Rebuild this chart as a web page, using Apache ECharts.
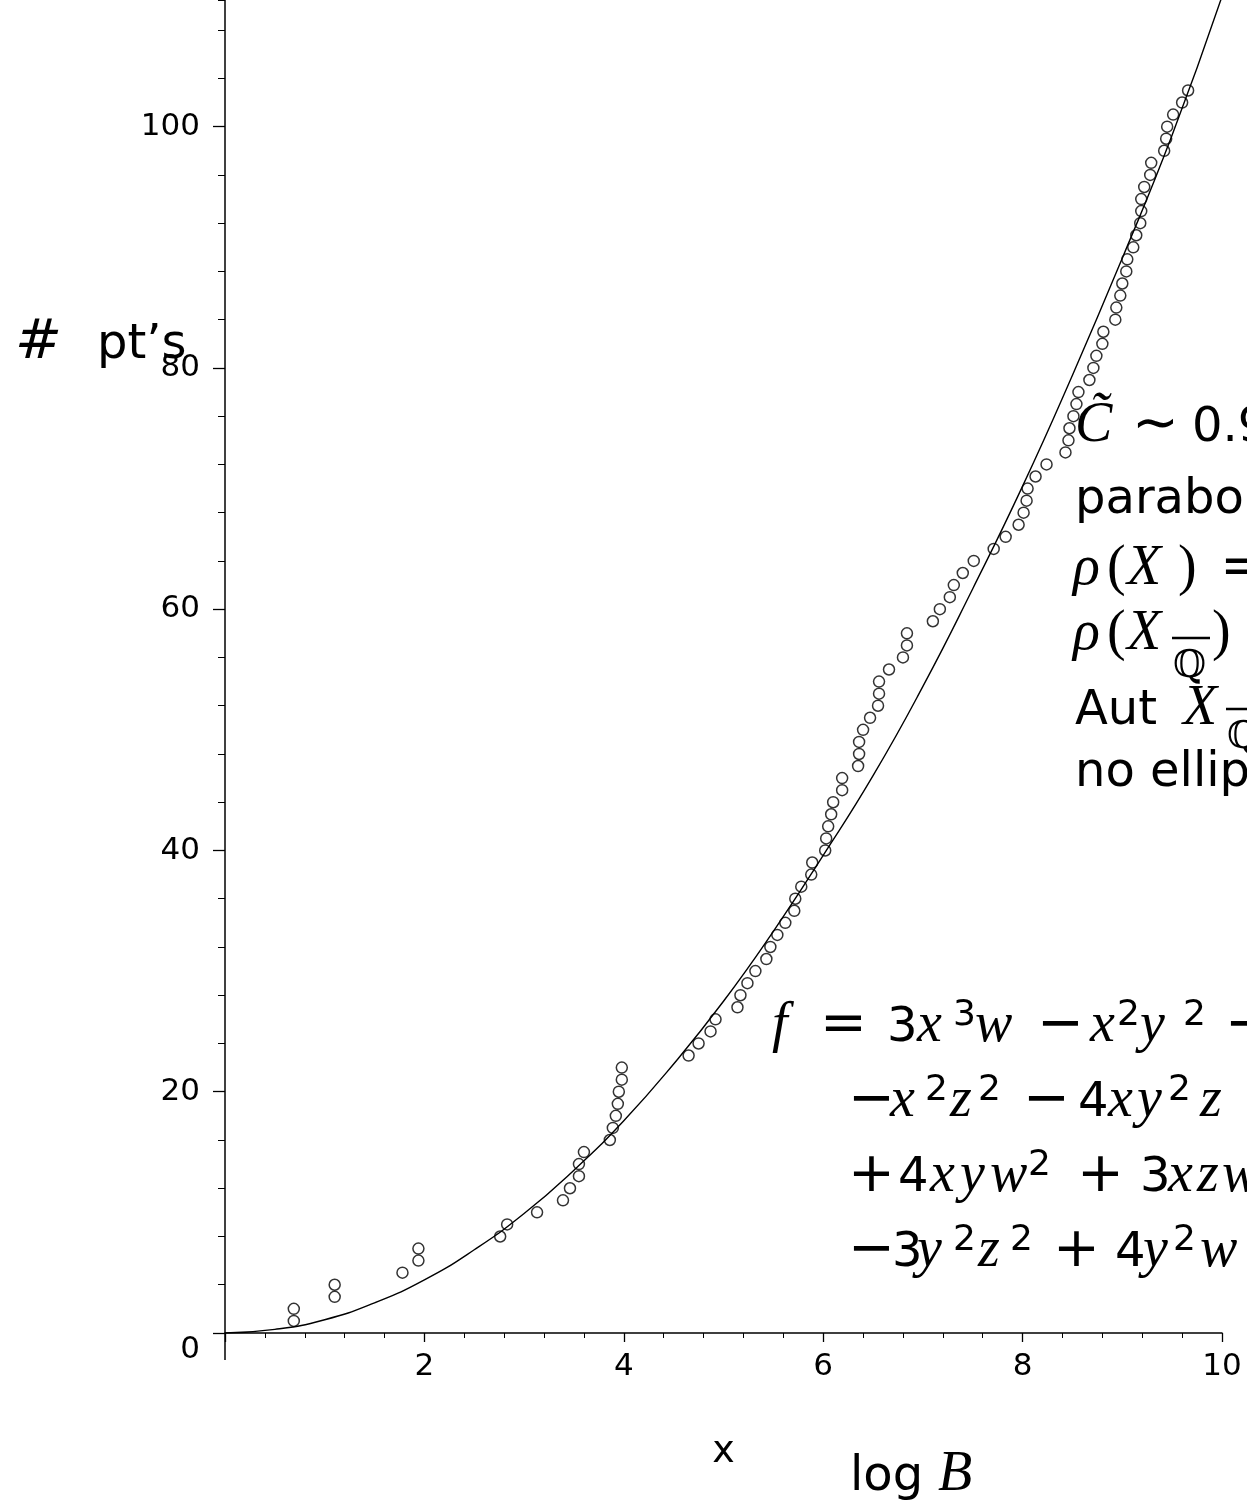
<!DOCTYPE html>
<html>
<head>
<meta charset="utf-8">
<script src="https://cdn.jsdelivr.net/npm/echarts@6/dist/echarts.min.js"></script>
<style>
html,body{margin:0;padding:0;background:#fff;}
#main{width:1247px;height:1505px;}
</style>
</head>
<body>
<div id="main"></div>
<script>
// points counted up to height B, plotted against log B
var logB = [0.69,0.69,1.10,1.10,1.78,1.94,1.94,2.76,2.83,3.13,
    3.39,3.46,3.55,3.55,3.60,3.86,3.89,3.92,3.94,3.95,
    3.98,3.98,4.65,4.75,4.87,4.92,5.14,5.17,5.24,5.32,
    5.43,5.47,5.54,5.62,5.71,5.72,5.78,5.88,5.89,6.02,
    6.03,6.05,6.08,6.10,6.19,6.19,6.35,6.36,6.36,6.40,
    6.47,6.55,6.56,6.56,6.66,6.80,6.84,6.84,7.10,7.17,
    7.27,7.31,7.40,7.51,7.71,7.83,7.96,8.01,8.04,8.05,
    8.13,8.24,8.43,8.46,8.47,8.51,8.54,8.56,8.67,8.71,
    8.74,8.80,8.81,8.93,8.94,8.98,9.00,9.04,9.05,9.11,
    9.14,9.18,9.19,9.19,9.22,9.28,9.29,9.42,9.44,9.45,
    9.51,9.60,9.66];
var numPts = [1,2,3,4,5,6,7,8,9,10,
    11,12,13,14,15,16,17,18,19,20,
    21,22,23,24,25,26,27,28,29,30,
    31,32,33,34,35,36,37,38,39,40,
    41,42,43,44,45,46,47,48,49,50,
    51,52,53,54,55,56,57,58,59,60,
    61,62,63,64,65,66,67,68,69,70,
    71,72,73,74,75,76,77,78,79,80,
    81,82,83,84,85,86,87,88,89,90,
    91,92,93,94,95,96,97,98,99,100,
    101,102,103];

// fitted curve
var curveX = [0,0.5,1,1.5,2,2.5,3,3.5,4,4.5,5,5.5,6,6.5,7,7.5,8,8.5,9,9.5,10];
var curveY = [0,0.3,1.1,2.5,4.4,6.9,9.9,13.5,17.6,22.3,27.5,33.3,39.6,46.2,53.6,61.7,70.2,79.4,89.1,99.3,110.8];

var xTicks = [0,10,2];       // min, max, step
var yTicks = [0,110.5,20,4]; // min, max, step, minor step

var scatterData = [];
for (var i = 0; i < logB.length; i++) scatterData.push([logB[i], numPts[i]]);
var curveData = [];
for (var j = 0; j < curveX.length; j++) curveData.push([curveX[j], curveY[j]]);

// text styles: math italic, roman, sans, operator, superscript, big hash
var fonts = {
    m:   {fontFamily:'Liberation Serif', fontStyle:'italic', fontSize:56, lineHeight:60},
    r:   {fontFamily:'Liberation Serif', fontSize:56, lineHeight:60},
    s:   {fontFamily:'DejaVu Sans', fontSize:48, lineHeight:60, padding:[5,0,0,0]},
    o:   {fontFamily:'DejaVu Sans', fontSize:56, lineHeight:60},
    sup: {fontFamily:'DejaVu Sans', fontSize:36, height:40, verticalAlign:'top'},
    h:   {fontFamily:'DejaVu Sans', fontStyle:'oblique', fontSize:56, lineHeight:60}
};

// tokens: [style, text, advance width]
function mathText(x, y, tokens) {
    var rich = {}, parts = [];
    for (var k = 0; k < tokens.length; k++) {
        var t = tokens[k], st = {color:'#000'};
        var base = fonts[t[0]];
        for (var p in base) st[p] = base[p];
        if (t[2]) st.width = t[2];
        rich['t' + k] = st;
        parts.push('{t' + k + '|' + t[1] + '}');
    }
    return {type:'text', x:x, y:y, silent:true,
        style:{text:parts.join(''), rich:rich, fill:'#000', align:'left', verticalAlign:'top'}};
}

function qbar(x, y) {
    return [
        {type:'text', x:x, y:y, silent:true,
            style:{text:'\u211A', fontFamily:'DejaVu Serif', fontSize:38, lineHeight:40, fill:'#000', align:'left', verticalAlign:'top'}},
        {type:'line', silent:true, shape:{x1:x - 1, y1:y - 9, x2:x + 37, y2:y - 9}, style:{stroke:'#000', lineWidth:2.4}}
    ];
}

var graphics = [
    // y axis runs a little below the x axis
    {type:'line', silent:true, shape:{x1:225, y1:1333, x2:225, y2:1360}, style:{stroke:'#000', lineWidth:1.5}},
    mathText(15, 313, [['h','#',82],['s','pt\u2019s']]),
    mathText(850, 1445, [['s','log',88],['m','B']]),

    mathText(1075, 396, [['m','C\u0303',57],['o','\u223C',60],['s','0.9']]),
    mathText(1075, 468, [['s','parabolic']]),
    mathText(1073, 539, [['m','\u03C1',34],['r','(',20],['m','X',51],['r',')',42],['o','=']]),
    mathText(1073, 604, [['m','\u03C1',34],['r','(',20],['m','X',85],['r',')']]),
    mathText(1075, 679, [['s','Aut',108],['m','X']]),
    mathText(1075, 741, [['s','no elliptic']]),

    mathText(772, 996, [['m','f',48],['o','=',67],['s','3',30],['m','x',36],['sup','3',22],['m','w',62],
        ['o','\u2212',53],['m','x',27],['sup','2',23],['m','y',43],['sup','2',42],['o','\u2212']]),
    mathText(848, 1071, [['o','\u2212',42],['m','x',35],['sup','2',25],['m','z',28],['sup','2',45],['o','\u2212',55],
        ['s','4',30],['m','x',29],['m','y',31],['sup','2',32],['m','z',45],['o','+']]),
    mathText(848, 1146, [['o','+',50],['s','4',32],['m','x',30],['m','y',30],['m','w',38],['sup','2',49],
        ['o','+',63],['s','3',28],['m','x',29],['m','z',25],['m','w']]),
    mathText(848, 1221, [['o','\u2212',44],['s','3',25],['m','y',36],['sup','2',25],['m','z',32],['sup','2',43],
        ['o','+',62],['s','4',28],['m','y',30],['sup','2',27],['m','w']])
].concat(qbar(1173, 647), qbar(1227, 718));

var chart = echarts.init(document.getElementById('main'));
chart.setOption({
    animation:false,
    backgroundColor:'#fff',
    grid:{left:225, right:25, top:0, bottom:172},
    xAxis:{
        type:'value', min:xTicks[0], max:xTicks[1], interval:xTicks[2],
        name:'x', nameLocation:'middle', nameGap:100,
        nameTextStyle:{fontFamily:'DejaVu Sans', fontSize:38, color:'#000'},
        axisLine:{onZero:false, lineStyle:{color:'#000', width:1.5}},
        axisTick:{length:9, lineStyle:{color:'#000', width:1.3}},
        minorTick:{show:true, splitNumber:5, length:5, lineStyle:{color:'#000', width:1}},
        axisLabel:{showMinLabel:false, margin:18, fontFamily:'DejaVu Sans', fontSize:31, color:'#000'},
        splitLine:{show:false}
    },
    yAxis:[
        {
            type:'value', min:yTicks[0], max:yTicks[1], interval:yTicks[2],
            axisLine:{onZero:false, lineStyle:{color:'#000', width:1.5}},
            axisTick:{length:12, lineStyle:{color:'#000', width:1.3}},
            axisLabel:{
                margin:25, showMaxLabel:false, fontFamily:'DejaVu Sans', fontSize:31, color:'#000',
                formatter:function(v){ return v === 0 ? '{z|0}' : String(v); },
                rich:{z:{fontFamily:'DejaVu Sans', fontSize:31, padding:[34,0,0,0]}}
            },
            splitLine:{show:false}
        },
        {
            // minor ticks every 4
            type:'value', position:'left', min:yTicks[0], max:yTicks[1], interval:yTicks[3],
            axisLine:{show:false},
            axisTick:{length:7, lineStyle:{color:'#000', width:1}},
            axisLabel:{show:false},
            splitLine:{show:false}
        }
    ],
    series:[
        {
            type:'line', data:curveData, smooth:true, showSymbol:false,
            lineStyle:{color:'#000', width:1.4}, z:2
        },
        {
            type:'scatter', data:scatterData, symbol:'circle', symbolSize:11,
            itemStyle:{color:'rgba(0,0,0,0)', borderColor:'#000', borderWidth:1.5}, z:3
        }
    ],
    graphic:graphics
});
</script>
</body>
</html>
